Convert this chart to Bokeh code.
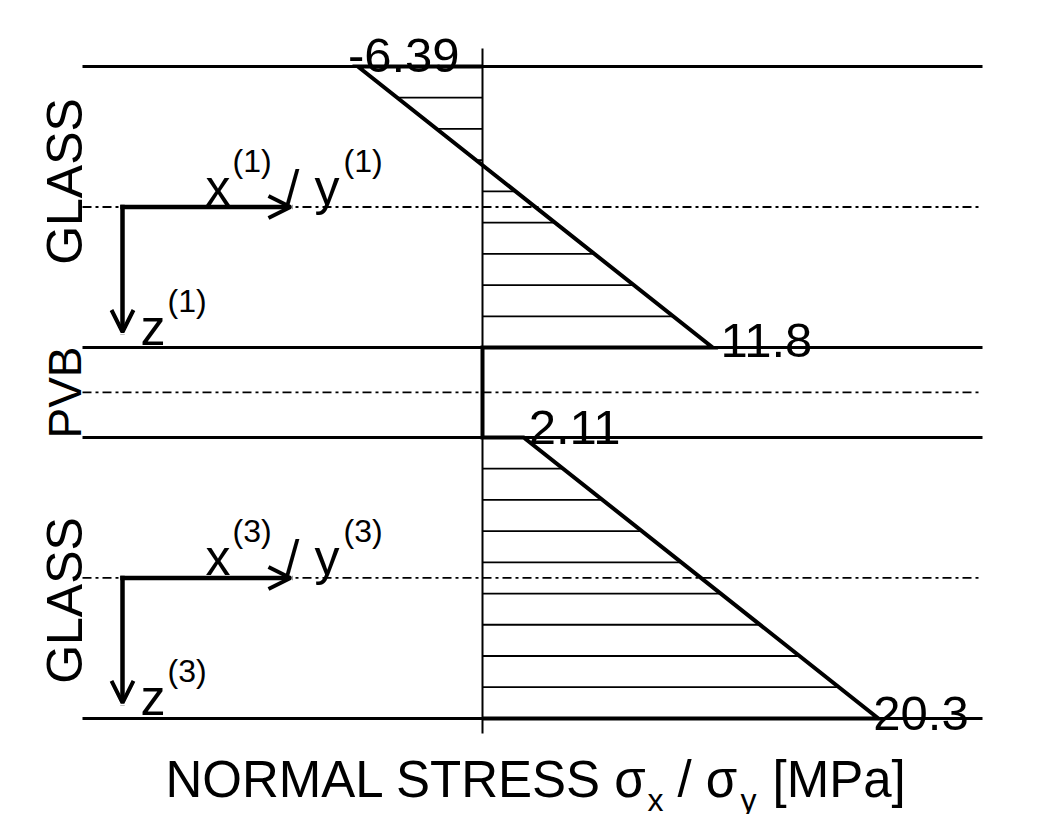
import numpy as np
from bokeh.plotting import figure
from bokeh.models import Range1d, Arrow, OpenHead
from bokeh.core.properties import value
from bokeh.embed import file_html
from bokeh.resources import INLINE

# ---------------- data ----------------
layer_names = ["GLASS", "PVB", "GLASS"]
layer_thickness = [10.0, 3.2, 10.0]          # mm (relative thickness of plies)
stress_top = [-6.39, 0.0, 2.11]              # MPa at top face of each layer
stress_bottom = [11.8, 0.0, 20.3]            # MPa at bottom face of each layer
value_labels = ["-6.39", "11.8", "2.11", "20.3"]
ply_index = ["1", "2", "3"]
hatch_divisions = 9

# ---------------- layout helpers (reference pixel -> data) ----------------
SX = 19.5     # px per MPa
SZ = 28.1     # px per mm
X0, Z0 = 482, 66
W, H = 1050, 814


def dx(px):
    return (px - X0) / SX


def dz(py):
    return (py - Z0) / SZ


FONT = value("Liberation Sans")

p = figure(width=W, height=H,
           x_range=Range1d(dx(0), dx(W)),
           y_range=Range1d(dz(H), dz(0)),
           output_backend="svg", toolbar_location=None,
           x_axis_type=None, y_axis_type=None,
           min_border=0, outline_line_color=None,
           background_fill_color="white", border_fill_color="white")
p.grid.visible = False

thick = np.array(layer_thickness)
z_edges = np.concatenate([[0.0], np.cumsum(thick)])
z_mid = z_edges[:-1] + thick / 2

XL, XR = dx(82), dx(982)

# layer boundaries
p.segment(x0=[XL] * len(z_edges), y0=z_edges, x1=[XR] * len(z_edges), y1=z_edges,
          line_color="black", line_width=3)
# mid-planes (dash-dot)
p.segment(x0=[XL] * len(z_mid), y0=z_mid, x1=[XR] * len(z_mid), y1=z_mid,
          line_color="black", line_width=1.8, line_dash="9 4 3 4")
# zero stress axis
p.segment(x0=[0], y0=[dz(48)], x1=[0], y1=[dz(733)], line_color="black", line_width=2)

# hatching inside stress diagram of glass plies
hx0, hy0, hx1, hy1 = [], [], [], []
for i, name in enumerate(layer_names):
    if name != "GLASS":
        continue
    for k in range(1, hatch_divisions):
        f = k / hatch_divisions
        z = z_edges[i] + f * thick[i]
        s = stress_top[i] + f * (stress_bottom[i] - stress_top[i])
        hx0.append(0.0); hy0.append(z); hx1.append(s); hy1.append(z)
p.segment(x0=hx0, y0=hy0, x1=hx1, y1=hy1, line_color="black", line_width=1.8)

# stress profile outline
ox, oz = [0.0], [0.0]
for i in range(len(layer_names)):
    ox += [stress_top[i], stress_bottom[i]]
    oz += [z_edges[i], z_edges[i + 1]]
ox.append(0.0); oz.append(z_edges[-1])
p.line(ox, oz, line_color="black", line_width=4, line_join="miter")

# value labels at the extremes
lab_x = [stress_top[0], stress_bottom[0], stress_top[2], stress_bottom[2]]
lab_z = [z_edges[0], z_edges[1], z_edges[2], z_edges[3]]
off_x = [-10, 8, 5, -5]
off_z = [-11, -7, -10, -5]
p.text(x=[a + o / SX for a, o in zip(lab_x, off_x)],
       y=[b + o / SZ for b, o in zip(lab_z, off_z)],
       text=value_labels, text_font=FONT, text_font_size="49px",
       text_align="left", text_baseline="alphabetic", text_color="black")

# layer names (rotated)
name_y = [dz(181), dz(392), dz(600)]
name_size = ["50px", "46px", "50px"]
for nm, ny, ns in zip(layer_names, name_y, name_size):
    p.text(x=[dx(64)], y=[ny], text=[nm], angle=np.pi / 2,
           text_font=FONT, text_font_size=ns, text_align="center",
           text_baseline="alphabetic", text_color="black")

# local coordinate systems for glass plies
for i, name in enumerate(layer_names):
    if name != "GLASS":
        continue
    zm = z_mid[i]
    shift = (zm - z_mid[0])
    ox0 = dx(122)
    p.add_layout(Arrow(end=OpenHead(size=22, line_width=4, line_color="black"),
                       x_start=ox0, y_start=zm, x_end=dx(290), y_end=zm,
                       line_width=4.5, line_color="black", line_cap="square"))
    p.add_layout(Arrow(end=OpenHead(size=22, line_width=4, line_color="black"),
                       x_start=ox0, y_start=zm, x_end=ox0, y_end=zm + 125 / SZ,
                       line_width=4.5, line_color="black", line_cap="square"))
    idx = "(" + ply_index[i] + ")"
    base = dz(187) + shift
    sup = dz(160) + shift
    p.text(x=[dx(205), dx(285), dx(314)], y=[base] * 3, text=["x", "/", "y"],
           text_font=FONT, text_font_size="50px", text_baseline="alphabetic",
           text_color="black")
    p.text(x=[dx(232), dx(343)], y=[sup] * 2, text=[idx, idx],
           text_font=FONT, text_font_size="32px", text_baseline="alphabetic",
           text_color="black")
    p.text(x=[dx(140)], y=[dz(327) + shift], text=["z"],
           text_font=FONT, text_font_size="50px", text_baseline="alphabetic",
           text_color="black")
    p.text(x=[dx(167)], y=[dz(300) + shift], text=[idx],
           text_font=FONT, text_font_size="32px", text_baseline="alphabetic",
           text_color="black")

# axis title
p.text(x=[dx(165), dx(677), dx(772)], y=[dz(779)] * 3,
       text=["NORMAL STRESS \u03c3", "/ \u03c3", "[MPa]"],
       text_font=FONT, text_font_size="51px", text_baseline="alphabetic",
       text_color="black")
p.text(x=[dx(647), dx(740)], y=[dz(799)] * 2, text=["x", "y"],
       text_font=FONT, text_font_size="32px", text_baseline="alphabetic",
       text_color="black")

open("out.html", "w").write(file_html(p, INLINE))
